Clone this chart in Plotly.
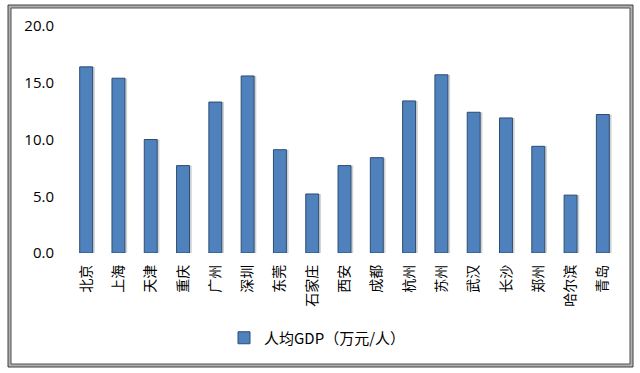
import plotly.graph_objects as go

cities = ["北京", "上海", "天津", "重庆", "广州", "深圳", "东莞", "石家庄", "西安",
          "成都", "杭州", "苏州", "武汉", "长沙", "郑州", "哈尔滨", "青岛"]
gdp_per_capita = [16.4, 15.4, 10.0, 7.7, 13.3, 15.6, 9.1, 5.2, 7.7,
                  8.4, 13.4, 15.7, 12.4, 11.9, 9.4, 5.1, 12.2]
series_name = "人均GDP（万元/人）"
y_ticks = [0, 5, 10, 15, 20]

W, H = 640, 373
L, R, T, B = 70, 21, 26, 120
pw, ph = W - L - R, H - T - B

def px_x(px):
    return (px - L) / pw

def px_y(py):
    return (H - B - py) / ph

fig = go.Figure()
# soft shadow behind bars
fig.add_trace(go.Bar(
    x=cities, y=gdp_per_capita, width=0.4, offset=-0.2 + 0.07,
    marker=dict(color="rgba(0,0,0,0.18)", line=dict(width=0)),
    showlegend=False, hoverinfo="skip"))
fig.add_trace(go.Bar(
    x=cities, y=gdp_per_capita, name=series_name, width=0.4, offset=-0.2,
    marker=dict(color="#4F81BD", line=dict(color="#2C4D75", width=1))))

fig.update_layout(
    width=W, height=H,
    margin=dict(l=L, r=R, t=T, b=B, autoexpand=False),
    paper_bgcolor="white", plot_bgcolor="white",
    barmode="overlay",
    font=dict(family="Open Sans, Noto Sans CJK SC", size=14, color="#000000"),
    xaxis=dict(tickangle=-90, showgrid=False, showline=False, ticks="",
               ticklabelstandoff=8,
               tickfont=dict(family="Noto Sans CJK SC", size=14)),
    yaxis=dict(range=[0, 20], tickvals=y_ticks, tickformat=".1f",
               showgrid=False, showline=False, zeroline=False, ticks="",
               ticklabelstandoff=15, tickfont=dict(size=15)),
    legend=dict(orientation="h", x=px_x(224), xanchor="left", y=px_y(338), yanchor="middle",
                font=dict(family="Noto Sans CJK SC", size=15),
                itemwidth=30, bgcolor="rgba(0,0,0,0)"),
    showlegend=True,
)

# double frame
for x0, y0, x1, y1, color, w in [
    (9.5, 6.5, 631.5, 365.5, "#B0B0B0", 3),
    (8, 5, 633, 367, "#404040", 1),
    (11, 8, 630, 364, "#505050", 1),
]:
    fig.add_shape(type="rect", xref="paper", yref="paper",
                  x0=px_x(x0), x1=px_x(x1), y0=px_y(y1), y1=px_y(y0),
                  line=dict(color=color, width=w), layer="above")

fig.write_html("out.html", config={"displayModeBar": False},
               post_script="document.body.style.margin='0';")
